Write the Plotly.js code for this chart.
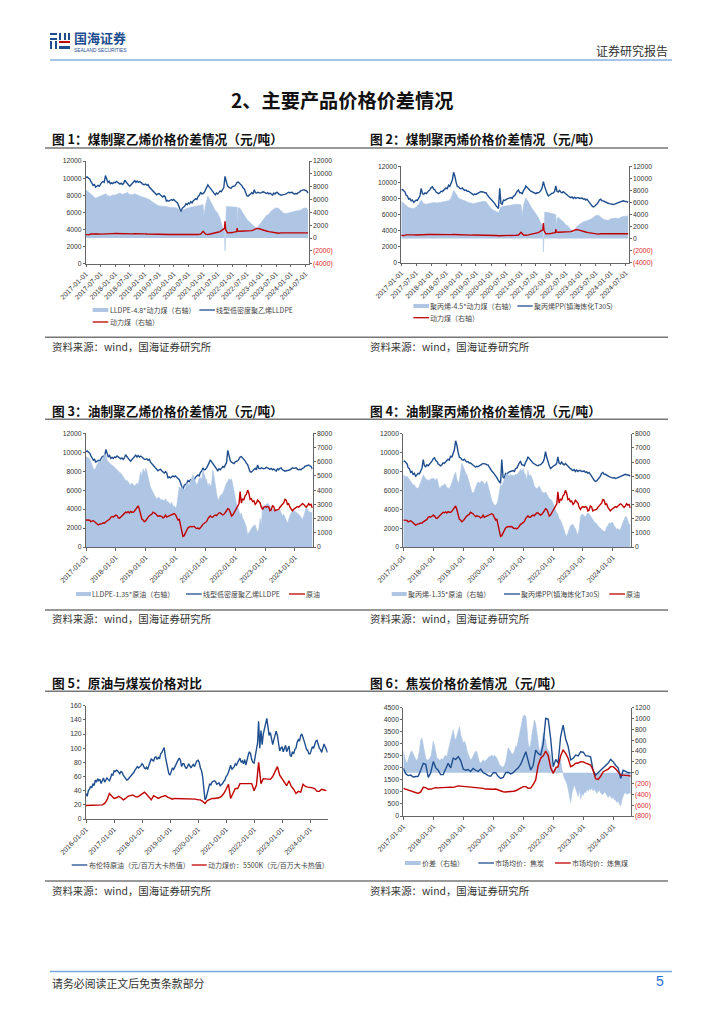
<!DOCTYPE html>
<html><head><meta charset="utf-8">
<script src="https://cdn.plot.ly/plotly-3.0.1.min.js"></script>
<style>html,body{margin:0;padding:0;background:#fff}</style>
</head><body><div id="page" style="width:724px;height:1024px"></div>
<script>
// ---------- series ----------
const lldpePrice = [
10050,10150,10000,9900,9650,9450,9150,9250,8950,9050,9150,9050,9350,9500,9600,9500,10300,9750,9500,9650,9350,9450,9350,9500,
9450,9600,9500,9400,9300,9400,9250,9400,9750,9550,9300,9200,9050,9200,9300,9450,9700,9500,9650,9500,9600,9500,9350,9250,
9250,9300,9150,9250,8950,8800,8650,8550,8450,8300,8050,8150,8200,8050,7900,7800,7950,7800,7300,7400,7300,7450,7500,7400,
7500,7350,7250,7100,6800,6500,6000,6500,6600,6700,7000,6900,7100,7000,7250,7100,7350,7500,7600,7500,7900,8000,8350,8150,
8200,8350,8750,8900,9200,9000,8750,8600,8450,8250,8050,8250,8150,8300,8500,8400,8750,8900,10200,9600,9100,8950,8900,8800,
9000,9050,9100,9300,9500,9550,9400,9250,9100,8850,8700,8300,7950,7900,8050,8200,8300,8150,8650,8300,8250,8350,8300,8250,
8300,8400,8350,8250,8200,8300,8150,8250,8100,8000,8250,8150,8300,8350,8150,8100,8000,8050,8050,8100,8150,8250,8350,8300,
8300,8350,8200,8150,8200,8150,8300,8350,8500,8550,8600,8650,8550,8500,8250];
const ppPrice = [
9050,9100,8950,8800,8400,8300,7900,8000,7700,7800,7500,7650,7800,7750,8100,8300,9250,8600,8500,8700,8600,8750,9000,9100,
9350,9450,9150,9050,8800,8700,8600,8700,8900,8850,9000,9100,9300,9200,9650,9500,9900,10300,11250,10800,10000,9500,9450,9250,
9200,9300,9100,9000,9050,8900,8900,8800,8700,8600,8450,8550,8500,8600,8700,8800,8850,8800,8800,8700,8700,8450,8200,8050,
7900,7750,7600,7350,7100,6950,6750,9250,7400,7300,7800,7750,7900,7950,8000,8050,8100,8000,8300,8350,8700,8900,9050,8700,
8700,8600,9000,9200,9550,9350,9200,9050,8900,8800,8700,8650,8600,8700,8700,8800,9000,9350,10100,9500,8900,8600,8300,8450,
8500,8650,8700,8900,9550,8900,8800,9000,8800,8700,8850,8700,8500,8400,8300,8200,8100,8200,8000,8150,8000,8100,8100,8000,
8000,8050,7900,7950,7800,7900,7700,7550,7300,7100,6950,7000,7100,7300,7500,7800,7900,7700,7700,7600,7500,7450,7400,7350,
7300,7350,7250,7300,7350,7400,7500,7550,7600,7650,7700,7650,7650,7600,7500];
const coalCost = [
550,500,620,650,600,620,600,640,600,620,640,680,
700,680,700,680,620,600,620,640,660,680,650,640,
640,620,600,580,580,600,600,580,560,560,550,550,
550,550,520,470,470,480,520,540,520,520,560,600,
1040,600,550,620,750,800,900,1000,1300,2600,800,780,
850,950,1550,1050,1050,1100,1050,1150,1150,1300,1500,1450,
1300,1150,1100,1000,950,800,750,750,800,800,850,900,
900,850,850,800,800,800,820,800];
const coalCostSpikes = [['2021-09-25',1500],['2021-10-09',1300],['2022-02-25',1000],['2022-03-08',1100]];
const lldpeCoalSpread = [
7500,7200,6800,6500,6200,6400,6500,6700,6900,6600,6500,6700,
6700,6900,7000,6800,7000,7100,6800,6700,6900,6700,6500,6400,
6300,6200,6000,5700,5400,5200,5000,5000,5000,4900,4800,4800,
4750,4700,4500,3950,4400,4600,4700,4800,4900,5000,5100,5200,
5200,5200,6500,5800,5000,4300,3900,3000,1600,-2000,4900,4900,
4900,4800,4800,4700,4000,3500,2900,2500,2200,1800,1500,2000,
2700,3200,3500,3700,4200,4500,4700,4600,4200,3900,3800,3900,
4100,4200,4200,4250,4350,4600,4700,4450];
const lldpeCoalSpikes = [['2021-01-10',3400],['2021-01-22',5000],['2021-09-26',1300],['2021-10-12',900],['2021-10-18',4900],['2022-03-08',2100],['2022-03-15',4700]];
const ppCoalSpread = [
6200,5900,5500,5100,5000,5000,5200,5700,6400,5800,5700,5800,
6000,6000,5900,5900,6000,6100,6200,6300,6700,8000,7400,6700,
6500,6400,6200,6000,5900,5800,5900,6000,6100,6200,6100,5500,
5000,4700,4500,4300,5200,5400,5400,5500,5600,5600,5700,5700,
5600,5600,6700,6100,5300,4700,4200,3500,2500,-2200,4400,4300,
4200,4000,4000,3500,3200,2800,2300,2000,1500,850,1700,2200,
2500,2800,2900,3000,3200,3500,3800,3900,3500,3200,3100,3000,
3300,3400,3400,3300,3500,3700,3700,3800];
const ppCoalSpikes = [['2021-01-14',3800],['2021-01-24',5400],['2021-09-26',2200],['2021-10-12',800],['2021-10-18',4400],['2022-03-08',1700],['2022-03-18',3400]];
const crudeOil = [
1900,1900,1920,1880,1780,1800,1850,1780,1700,1650,1550,1600,1600,1650,1700,1680,1780,1850,1900,1950,2100,2150,2100,2180,
2250,2200,2050,2020,2100,2150,2300,2400,2450,2420,2480,2400,2500,2450,2450,2520,2650,2800,2900,2650,2300,1950,1900,1780,
1850,2000,2100,2200,2250,2300,2450,2420,2350,2250,2150,2200,2200,2150,2050,2100,2250,2100,2150,2200,2200,2280,2320,2350,
2280,2100,1900,1950,1500,1000,750,800,1000,1250,1350,1400,1450,1430,1450,1450,1350,1300,1330,1280,1350,1500,1600,1650,
1750,1800,2000,2150,2200,2100,2100,2200,2250,2200,2350,2400,2400,2350,2250,2300,2400,2550,2700,2650,2450,2180,2250,2400,
2600,2800,2950,3050,3900,3100,3400,3300,3600,3700,4000,3800,3350,3400,3200,3250,3000,3100,3300,3200,3100,2800,2650,2800,
2850,2800,2850,2800,2550,2600,2900,2850,2550,2600,2600,2650,2800,2900,3000,3100,3350,3300,3000,3050,2800,2650,2550,2650,
2700,2750,2850,2800,2900,2950,3050,3000,2850,2800,2900,3050,2950,3000,2750];
const lldpeOilSpread = [
6360,6300,6250,6200,6000,5800,5500,5450,5550,5800,5950,6050,6000,6100,6300,6500,6480,6100,6000,5900,5850,5750,5700,5600,
5540,5450,5350,5250,5200,5100,4950,4800,4650,4700,4550,4400,4350,4500,4400,4300,4370,4500,4350,4800,5300,5000,5500,5200,
5540,5300,4720,4500,4200,4000,3780,3600,3500,3400,3430,3500,3300,3350,3310,3250,3400,3200,3190,3100,3000,3150,2840,2900,
2720,2900,3600,4250,4100,4200,4130,4000,4150,4480,4480,4300,4600,4900,5070,4800,4600,4370,4500,4840,4900,4700,5420,5100,
4840,4700,4250,4500,4250,4400,5420,5000,4300,3800,3310,3400,3600,3700,3780,4000,4300,4500,4600,4800,4720,4800,4400,3900,
3600,3000,2840,2500,2250,2400,2000,1900,1670,1400,850,1000,1100,1300,1430,1500,1550,1300,1000,1250,2000,1500,2840,2900,
2900,3000,3080,3000,2800,2700,2600,2650,2700,2650,2600,2550,2600,2400,2200,2300,2140,1900,1670,2000,2200,2400,2490,2600,
2500,2400,2370,2300,2200,2100,1900,2200,2500,2720,2700,2500,2450,2400,2500];
const ppOilSpread = [
5080,5000,4950,5000,4900,4800,4600,4500,4380,4400,4200,4150,4140,4300,4500,4800,5100,4900,4800,4750,4730,4700,4800,4850,
4850,4800,4700,4850,4500,4150,4200,4350,4300,4450,4400,4150,4200,4100,4300,4500,4800,5100,5300,4800,4500,4700,5400,5900,
5700,5400,5200,5100,4800,4500,4100,3900,3790,3900,4200,4500,4610,4500,4550,4650,4600,4400,4500,4650,4300,3900,3500,3300,
3100,2960,2950,3050,3300,3800,4400,4300,4500,4700,5000,5200,5100,5000,5150,5000,5100,5000,5150,5100,5200,5300,5500,5300,
5550,5200,5100,4700,5400,5000,5100,4900,4700,4300,4200,4100,4200,4300,4100,3900,3850,3800,3900,3700,3500,3400,3350,3300,
3100,2800,2600,2400,2300,2000,1900,1700,1400,1200,900,750,1000,1300,1500,1550,1600,1400,1300,1000,850,1300,2100,2300,
2300,2200,2100,2300,2400,2350,2200,2000,1900,1800,1700,1650,1500,1400,1300,1200,1150,1100,1100,1400,1500,1700,1650,1750,
1700,1500,1400,1250,1300,1200,1250,1500,1700,2000,2150,2100,1800,1600,1550];
const brentPrice = [
36,32,40,42,46,44,50,47,55,52,57,54,56,50,54,58,52,55,58,56,54,58,63,62,
68,67,69,68,66,64,67,66,62,60,57,55,56,58,60,62,63,66,69,71,74,72,73,75,
78,76,72,71,73,70,76,80,85,83,82,87,88,84,87,85,92,94,98,101,88,78,72,64,
62,67,72,70,74,76,80,83,86,83,74,78,78,74,71,74,78,75,72,75,77,74,80,82,
83,80,72,68,60,40,27,30,36,45,50,48,52,53,54,53,49,50,51,47,48,50,53,55,
60,62,66,72,76,70,72,74,78,76,80,84,86,80,82,78,84,76,84,90,95,92,84,80,
79,90,100,108,138,100,125,105,120,128,135,142,130,118,122,112,105,112,118,124,118,105,96,100,
102,95,100,104,95,100,103,90,88,95,92,98,100,108,112,110,118,120,116,110,104,98,97,92,
92,98,102,100,104,110,111,104,100,98,94,100,106,102,98,94];
const thermalCoal = [
19,19,19,19,19,20,20,20,22,27,36,32,
29,30,32,30,27,29,32,33,34,32,31,33,
35,38,35,30,27,33,31,29,31,32,33,31,
29,28,29,29,29,29,28,28,28,28,28,28,
27,27,25,22,26,28,29,29,29,30,32,36,
42,49,29,36,43,43,50,50,50,50,50,50,
40,48,80,50,57,57,57,56,60,68,74,62,
57,52,47,54,46,42,36,39,38,49,46,45,
45,44,43,39,39,42,41,40];
const cokePrice = [
1980,1750,1680,1700,1620,1620,1650,1900,2190,2150,1600,1800,
2260,2000,1900,1720,1720,1950,2190,2000,2400,2350,2470,2300,
1950,1900,1930,1850,1980,1900,1850,1950,1800,1750,1680,1650,
1800,1800,1650,1560,1600,1800,1820,1750,1800,1910,2000,2150,
2400,2670,2300,1910,2100,2740,2600,2530,3000,4060,4020,3200,
2050,2350,2200,3300,3780,3200,2900,2330,2400,2530,2500,2670,
2650,2500,2500,2450,1900,1700,1800,1900,2000,2100,2200,2350,
2250,2100,2000,1560,1900,1850,1800,1800];
const cokingCoal = [
1150,1110,1080,1050,1010,980,940,1000,1190,1180,1110,1120,
1150,1180,1170,1180,1190,1180,1190,1200,1190,1230,1250,1240,
1230,1220,1210,1200,1190,1200,1190,1170,1150,1120,1110,1110,
1110,1120,1080,1030,1010,1000,1000,1010,1030,1050,1100,1180,
1220,1220,1150,1160,1300,1500,2100,2400,2500,2700,2500,2000,
1770,2000,2050,2500,2740,2600,2400,2050,2100,2190,2200,2260,
2250,2200,2150,2120,1900,1550,1520,1650,1840,1900,1950,2050,
2050,1950,1850,1700,1700,1700,1680,1660];
const cokeSpread = [
400,300,200,180,250,300,380,400,350,280,250,220,280,400,600,640,500,350,260,240,230,260,290,400,
580,500,350,260,260,230,240,260,240,300,320,280,400,520,650,700,790,650,600,700,800,850,700,600,
550,580,520,400,350,300,230,260,300,350,400,380,300,200,180,200,240,200,230,240,280,300,310,320,
300,320,300,260,200,150,130,100,110,130,200,350,460,430,380,340,350,400,490,480,600,700,820,950,
1050,1060,1040,800,550,450,520,700,850,975,900,700,500,400,430,550,730,650,600,450,400,380,300,150,
20,60,120,-20,200,180,240,60,-50,-100,-150,-200,-300,-400,-550,-380,-300,-220,-300,-370,-440,-300,-490,-380,
-420,-350,-370,-300,-340,-300,-320,-280,-335,-300,-350,-380,-350,-320,-370,-400,-400,-350,-380,-430,-460,-420,-440,-480,
-450,-500,-510,-550,-520,-580,-610,-500,-430,-370,-380,-400,-390,-370,-400];

// ---------- tick labels and texts ----------
const rightNegCoal = {vals:[-4000,-2000,0,2000,4000,6000,8000,10000,12000],
  text:['<span style="color:#e0262b">(4000)</span>','<span style="color:#e0262b">(2000)</span>','0','2000','4000','6000','8000','10000','12000']};
const rightCoke = {vals:[-800,-600,-400,-200,0,200,400,600,800,1000,1200],
  text:['<span style="color:#e0262b">(800)</span>','<span style="color:#e0262b">(600)</span>','<span style="color:#e0262b">(400)</span>','<span style="color:#e0262b">(200)</span>','0','200','400','600','800','1000','1200']};
const figureTitles = ['图 1：煤制聚乙烯价格价差情况（元/吨）','图 2：煤制聚丙烯价格价差情况（元/吨）','图 3：油制聚乙烯价格价差情况（元/吨）','图 4：油制聚丙烯价格价差情况（元/吨）','图 5：原油与煤炭价格对比','图 6：焦炭价格价差情况（元/吨）'];
const sourceText = '资料来源：wind，国海证券研究所';

// ---------- date helpers (positions in time only) ----------
function pad(n){return (n<10?'0':'')+n}
function monthly(y,n){const o=[];for(let i=0;i<n;i++){o.push((y+Math.floor(i/12))+'-'+pad(i%12+1)+'-01')}return o}
function halfMonthly(y,n){const o=[];for(let i=0;i<n;i++){const m=Math.floor(i/2);o.push((y+Math.floor(m/12))+'-'+pad(m%12+1)+(i%2?'-16':'-01'))}return o}
function withSpikes(x,y,sp){const r=x.map((d,i)=>[d,y[i]]).concat(sp||[]);r.sort((a,b)=>a[0]<b[0]?-1:a[0]>b[0]?1:0);return {x:r.map(p=>p[0]),y:r.map(p=>p[1])}}

// ---------- page geometry ----------
const W=724,H=1024;
const FX=x=>x/W, FY=y=>1-y/H;
const blue='#1f4e8f', red='#c00000', area='#aec6e4', axisCol='#666', txt='#333';
const cn='"Noto Sans CJK SC","Noto Sans",sans-serif', lat='"Liberation Sans",Arial,sans-serif';
const m17=monthly(2017,92), h17=halfMonthly(2017,183);
const coalPts=withSpikes(m17,coalCost,coalCostSpikes);
const lldpeCoalPts=withSpikes(m17,lldpeCoalSpread,lldpeCoalSpikes);
const ppCoalPts=withSpikes(m17,ppCoalSpread,ppCoalSpikes);

const charts=[
 {box:[86,308.7,161,263.7],xr:['2017-01-01','2024-08-10'],dt:'M6',t0:'2017-01-01',
  left:[0,12000,2000],right:rightNegCoal,rr:[-4000,12000],base:'left',
  tr:[{n:'LLDPE-4.8*动力煤（右轴）',x:lldpeCoalPts.x,y:lldpeCoalPts.y,a:'r',k:'area',s:[92.7,108.3,310]},
      {n:'线型低密度聚乙烯LLDPE',x:h17,y:lldpePrice,a:'l',k:blue,s:[199.3,215,310]},
      {n:'动力煤（右轴）',x:coalPts.x,y:coalPts.y,a:'r',k:red,s:[92.7,108.3,322]}]},
 {box:[401.3,628.7,166.3,262.7],xr:['2017-01-01','2024-08-07'],dt:'M6',t0:'2017-01-01',
  left:[0,12000,2000],right:rightNegCoal,rr:[-4000,12000],base:'left',
  tr:[{n:'聚丙烯-4.5*动力煤（右轴）',x:ppCoalPts.x,y:ppCoalPts.y,a:'r',k:'area',s:[413.3,429,306]},
      {n:'聚丙烯PP(镇海炼化T30S)',x:h17,y:ppPrice,a:'l',k:blue,s:[517.3,532.7,306]},
      {n:'动力煤（右轴）',x:coalPts.x,y:coalPts.y,a:'r',k:red,s:[413.3,429,317.7]}]},
 {box:[86,312.7,433.3,547],xr:['2017-01-01','2024-08-05'],dt:'M12',t0:'2017-01-01',
  left:[0,12000,2000],rightAuto:[0,8000,1000],rr:[0,8000],base:'left',
  tr:[{n:'LLDPE-1.35*原油（右轴）',x:h17,y:lldpeOilSpread,a:'r',k:'area',s:[76,91,594]},
      {n:'线型低密度聚乙烯LLDPE',x:h17,y:lldpePrice,a:'l',k:blue,s:[186,201.7,594]},
      {n:'原油',x:h17,y:crudeOil,a:'r',k:red,s:[289,305,594]}]},
 {box:[403.3,630.7,433.7,547],xr:['2017-01-01','2024-08-05'],dt:'M12',t0:'2017-01-01',
  left:[0,12000,2000],rightAuto:[0,8000,1000],rr:[0,8000],base:'left',
  tr:[{n:'聚丙烯-1.35*原油（右轴）',x:h17,y:ppOilSpread,a:'r',k:'area',s:[391.7,406.7,594]},
      {n:'聚丙烯PP(镇海炼化T30S)',x:h17,y:ppPrice,a:'l',k:blue,s:[504,520,594]},
      {n:'原油',x:h17,y:crudeOil,a:'r',k:red,s:[609.3,625,594]}]},
 {box:[86,327.7,705.7,819],xr:['2016-01-01','2024-08-18'],dt:'M12',t0:'2016-01-01',
  left:[0,160,20],base:'left',single:true,
  tr:[{n:'布伦特原油（元/百万大卡热值）',x:halfMonthly(2016,208),y:brentPrice,a:'l',k:blue,s:[71.7,87.3,865]},
      {n:'动力煤价：5500K（元/百万大卡热值）',x:monthly(2016,104),y:thermalCoal,a:'l',k:red,s:[191.7,206.7,865]}]},
 {box:[403.3,630.7,707.7,816],xr:['2017-01-01','2024-08-01'],dt:'M12',t0:'2017-01-01',
  left:[0,4500,500],right:rightCoke,rr:[-800,1200],base:'right',
  tr:[{n:'价差（右轴）',x:h17,y:cokeSpread,a:'r',k:'area',s:[405,420.7,863]},
      {n:'市场均价：焦炭',x:m17,y:cokePrice,a:'l',k:blue,s:[478.3,494,863]},
      {n:'市场均价：炼焦煤',x:m17,y:cokingCoal,a:'l',k:red,s:[555,570.7,863]}]}
];

const layout={width:W,height:H,margin:{l:0,r:0,t:0,b:0},paper_bgcolor:'#fff',plot_bgcolor:'rgba(0,0,0,0)',showlegend:false,
  annotations:[],shapes:[],font:{family:lat,color:txt,size:7}};
const traces=[];

function text(s,x,y,o){layout.annotations.push(Object.assign({text:s,x:FX(x-2),y:FY(y),xref:'paper',yref:'paper',xanchor:'left',yanchor:'middle',showarrow:false,align:'left',
   font:{family:cn,size:9,color:'#222'}},o||{}))}
function rule(x0,x1,y,col,w){layout.shapes.push({type:'line',xref:'paper',yref:'paper',x0:FX(x0),x1:FX(x1),y0:FY(y),y1:FY(y),line:{color:col,width:w}})}
function box(x0,x1,y0,y1,col){layout.shapes.push({type:'rect',xref:'paper',yref:'paper',x0:FX(x0),x1:FX(x1),y0:FY(y0),y1:FY(y1),fillcolor:col,line:{width:0}})}

charts.forEach((c,i)=>{
  const k=i*2+1;
  const xn='xaxis'+(i+1), xid='x'+(i+1);
  const yLn=c.base==='left'?k:k+1, yRn=c.base==='left'?k+1:k;
  const yL='y'+yLn, yR='y'+yRn;
  const [x0,x1,y0,y1]=c.box;
  const dom=[FY(y1),FY(y0)];
  layout[xn]={domain:[FX(x0),FX(x1)],anchor:c.base==='left'?yL:yR,type:'date',range:c.xr,dtick:c.dt,tick0:c.t0,tickformat:'%Y-%m-%d',
    tickangle:-45,showgrid:false,zeroline:false,showline:true,linecolor:axisCol,linewidth:1,ticks:'outside',ticklen:2.5,tickcolor:axisCol,
    tickfont:{family:lat,size:7,color:txt}};
  const leftAxis={domain:dom,anchor:xid,side:'left',range:[c.left[0],c.left[1]],dtick:c.left[2],tick0:0,tickformat:'d',showgrid:false,zeroline:false,
    showline:true,linecolor:axisCol,linewidth:1,ticks:'outside',ticklen:2,tickcolor:axisCol,tickfont:{family:lat,size:6.8,color:txt}};
  layout['yaxis'+yLn]=leftAxis;
  if(!c.single){
    const rightAxis={domain:dom,anchor:xid,side:'right',range:c.rr,showgrid:false,zeroline:false,showline:true,linecolor:axisCol,linewidth:1,
      ticks:'outside',ticklen:2,tickcolor:axisCol,tickfont:{family:lat,size:6.8,color:txt},tickformat:'d'};
    if(c.right){rightAxis.tickmode='array';rightAxis.tickvals=c.right.vals;rightAxis.ticktext=c.right.text}
    else{rightAxis.dtick=c.rightAuto[2];rightAxis.tick0=0}
    layout['yaxis'+yRn]=rightAxis;
    if(c.base==='left'){rightAxis.overlaying=yL}else{leftAxis.overlaying=yR}
  }
  c.tr.forEach(t=>{
    const yy=t.a==='r'?yR:yL;
    const tr={type:'scatter',mode:'lines',name:t.n,x:t.x,y:t.y,xaxis:xid,yaxis:yy,hoverinfo:'skip'};
    if(t.k==='area'){tr.fill='tozeroy';tr.fillcolor=area;tr.line={color:area,width:0.6}}
    else{tr.line={color:t.k,width:1.4}}
    traces.push(tr);
    // legend key and label
    if(t.k==='area'){box(t.s[0],t.s[1],t.s[2]-2,t.s[2]+2,area)}
    else{rule(t.s[0],t.s[1],t.s[2],t.k,1.3)}
    text(t.n,t.s[1]+1.2,t.s[2],{font:{family:cn,size:7,color:'#444'}});
  });
});

// ---------- page furniture as real text and rules ----------
rule(50,672,60,'#a9c4ea',2);
rule(50,672,971.5,'#7ea6dc',1.6);
text('证券研究报告',596,50,{font:{family:cn,size:12,color:'#333'}});
text('国海证券',74,37.5,{font:{family:cn,size:13,color:blue,weight:700}});
text('SEALAND SECURITIES',74,50,{font:{family:lat,size:4.8,color:blue}});
// logo blocks
box(50,57,33,35,blue);box(50,57,38,40,blue);box(50,52,41,49,blue);box(55,57,41,49,blue);
box(59,61,33,40,blue);box(64,66,33,40,blue);box(68,70,33,40,blue);box(59,70,41,43,'#c00000');box(59,70,46,49,blue);
text('2、主要产品价格价差情况',231,100,{font:{family:cn,size:19.2,color:'#111',weight:700}});
const cols=[52,370], titleY=[138,410,682], topRule=[148,419.3,691.3], srcRule=[337.3,610,881], srcY=[346.7,618.5,890];
figureTitles.forEach((t,i)=>{
  const col=i%2,row=Math.floor(i/2);
  text(t,cols[col],titleY[row],{font:{family:cn,size:12.7,color:'#111',weight:700}});
  text(sourceText,cols[col],srcY[row],{font:{family:cn,size:10.4,color:'#333'}});
});
topRule.forEach(y=>rule(45,668,y,'#777',1.4));
srcRule.forEach(y=>rule(45,668,y,'#777',1.4));
text('请务必阅读正文后免责条款部分',52,982.5,{font:{family:cn,size:10.9,color:'#333'}});
text('5',656,981,{font:{family:lat,size:14,color:'#1f6fd0'}});

Plotly.newPlot('page',traces,layout,{displayModeBar:false,staticPlot:true});
</script></body></html>
